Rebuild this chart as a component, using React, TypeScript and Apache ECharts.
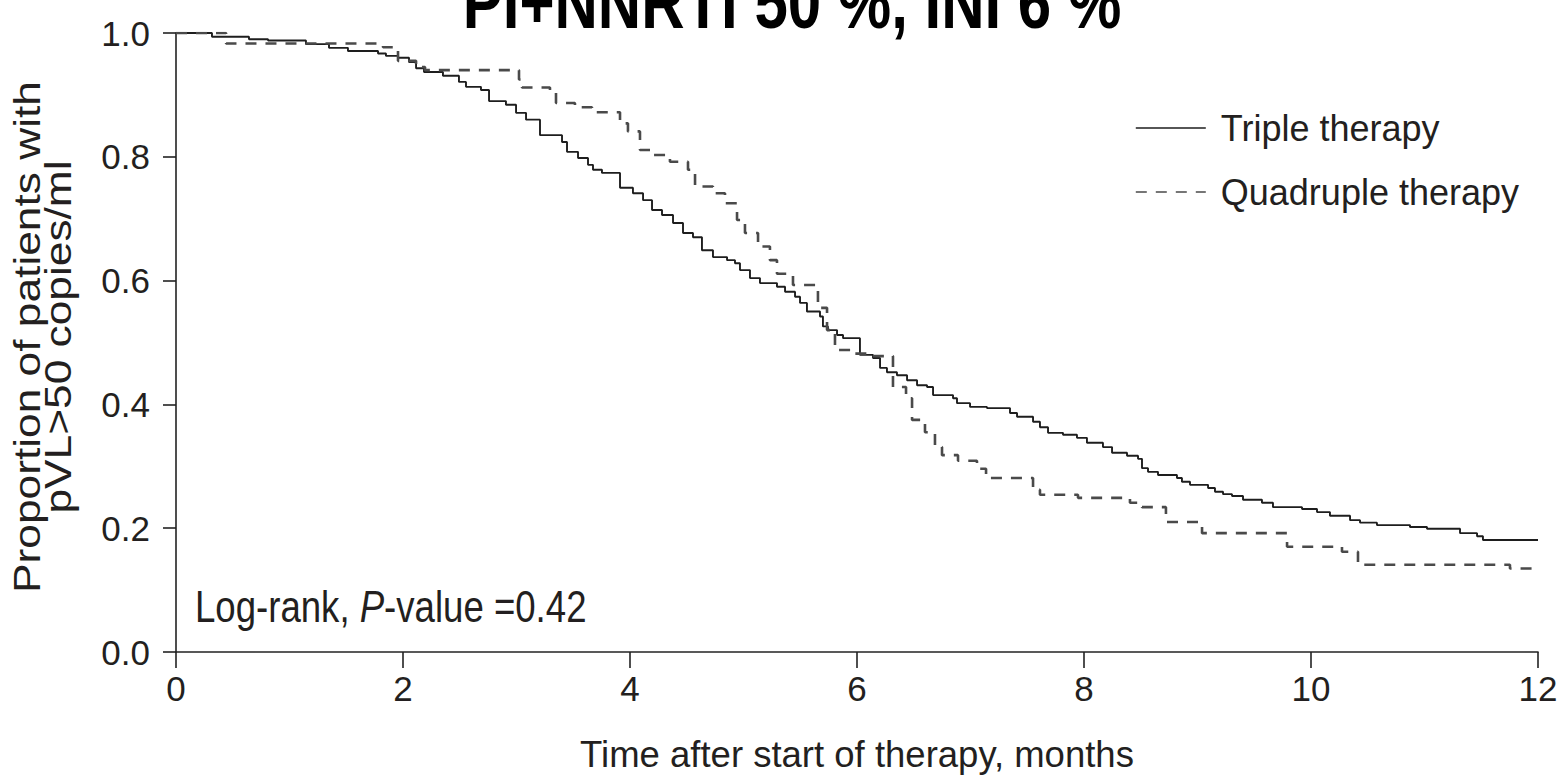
import React, { useEffect, useRef } from "react";
import * as echarts from "echarts";

const xTicks = [0, 2, 4, 6, 8, 10, 12];
const yTicks = [0, 0.2, 0.4, 0.6, 0.8, 1.0];

const seriesNames = ["Triple therapy", "Quadruple therapy"];

const tripleTimes = [
  0, 0.317, 0.643, 0.811, 1.145, 1.348, 1.515, 1.78, 1.85, 1.956, 2.053, 2.115, 2.185, 2.352, 2.493,
  2.555, 2.687, 2.758, 2.907, 2.996, 3.084, 3.207, 3.401, 3.445, 3.542, 3.63, 3.674, 3.753, 3.912,
  4.026, 4.115, 4.194, 4.282, 4.379, 4.467, 4.555, 4.634, 4.731, 4.855, 4.925, 4.969, 5.057, 5.145,
  5.295, 5.366, 5.454, 5.498, 5.559, 5.674, 5.7, 5.744, 5.824, 5.877, 6.026, 6.141, 6.203, 6.264,
  6.352, 6.441, 6.529, 6.617, 6.67, 6.846, 6.881, 6.996, 7.145, 7.348, 7.41, 7.551, 7.612, 7.683,
  7.815, 7.938, 8.026, 8.167, 8.247, 8.379, 8.476, 8.511, 8.564, 8.652, 8.819, 8.863, 8.934, 9.093,
  9.154, 9.225, 9.304, 9.401, 9.568, 9.665, 9.921, 10.053, 10.167, 10.344, 10.432, 10.581, 10.872,
  11.022, 11.313, 11.463, 11.515, 12.0,
];
const tripleValues = [
  1.0, 0.994, 0.99, 0.988, 0.982, 0.976, 0.971, 0.967, 0.963, 0.96, 0.953, 0.943, 0.937, 0.931, 0.921,
  0.913, 0.908, 0.89, 0.884, 0.871, 0.86, 0.835, 0.824, 0.808, 0.798, 0.787, 0.779, 0.774, 0.75,
  0.741, 0.73, 0.714, 0.706, 0.693, 0.677, 0.67, 0.649, 0.638, 0.633, 0.628, 0.617, 0.604, 0.596,
  0.59, 0.582, 0.574, 0.564, 0.55, 0.542, 0.526, 0.52, 0.512, 0.507, 0.48, 0.475, 0.459, 0.452,
  0.447, 0.439, 0.431, 0.428, 0.415, 0.41, 0.402, 0.396, 0.394, 0.386, 0.38, 0.372, 0.363, 0.354,
  0.351, 0.346, 0.338, 0.331, 0.322, 0.317, 0.312, 0.297, 0.291, 0.286, 0.281, 0.275, 0.27, 0.265,
  0.259, 0.255, 0.252, 0.246, 0.241, 0.234, 0.231, 0.226, 0.22, 0.213, 0.209, 0.205, 0.202,
  0.199, 0.192, 0.187, 0.181, 0.181,
];

const quadTimes = [
  0, 0.441, 1.824, 1.956, 2.115, 2.194, 3.022, 3.048, 3.295, 3.348, 3.515, 3.665, 3.912, 3.982, 4.088,
  4.203, 4.352, 4.511, 4.573, 4.731, 4.837, 4.943, 5.013, 5.128, 5.233, 5.295, 5.436, 5.656, 5.736,
  5.806, 5.965, 6.115, 6.317, 6.432, 6.485, 6.599, 6.687, 6.749, 6.89, 7.057, 7.137, 7.551, 7.612,
  7.947, 8.405, 8.511, 8.722, 9.04, 9.789, 10.273, 10.414, 11.753, 12.0,
];
const quadValues = [
  1.0, 0.983, 0.977, 0.955, 0.945, 0.94, 0.925, 0.912, 0.905, 0.887, 0.88, 0.872, 0.854, 0.841, 0.811,
  0.803, 0.792, 0.779, 0.752, 0.741, 0.725, 0.698, 0.677, 0.655, 0.633, 0.611, 0.593, 0.556, 0.52,
  0.488, 0.482, 0.478, 0.428, 0.41, 0.375, 0.355, 0.331, 0.318, 0.309, 0.296, 0.281, 0.262, 0.254,
  0.249, 0.241, 0.234, 0.21, 0.192, 0.17, 0.162, 0.141, 0.135, 0.135,
];

const titleText = "PI+NNRTI 50 %, INI 6 %";
const xAxisName = "Time after start of therapy, months";
const yAxisName = "Proportion of patients with\npVL>50 copies/ml";

const FONT = '"Liberation Sans", Arial, Helvetica, sans-serif';
const TEXT = "#231f20";
const STRETCH = 1.23;

export default function App() {
  const ref = useRef<HTMLDivElement>(null);

  useEffect(() => {
    document.body.style.margin = "0";
    if (!ref.current) return;
    const chart = echarts.init(ref.current, undefined, { renderer: "svg" });

    const tri = tripleTimes.map((t, i) => [t, tripleValues[i]]);
    const quad = quadTimes.map((t, i) => [t, quadValues[i]]);

    chart.setOption({
      animation: false,
      backgroundColor: "#ffffff",
      textStyle: { fontFamily: FONT },
      grid: {
        left: 176,
        right: 26,
        top: 33,
        bottom: 126,
        containLabel: false,
        outerBoundsMode: "none",
      },
      legend: {
        orient: "vertical",
        left: 1130,
        top: 102,
        itemWidth: 70,
        itemHeight: 14,
        itemGap: 22,
        data: seriesNames,
        itemStyle: { opacity: 0 },
        lineStyle: { width: 1.6 },
        textStyle: {
          fontFamily: FONT,
          fontSize: 36,
          color: TEXT,
          lineHeight: 42,
          padding: [0, 0, 0, 10],
        },
      },
      xAxis: {
        type: "value",
        min: 0,
        max: 12,
        interval: 2,
        name: xAxisName,
        nameLocation: "middle",
        nameGap: 84,
        nameTextStyle: { fontFamily: FONT, fontSize: 36.5, color: TEXT },
        axisLine: { show: true, onZero: false, lineStyle: { color: "#222", width: 1.6 } },
        axisTick: { show: true, inside: false, length: 16, lineStyle: { color: "#222", width: 1.6 } },
        axisLabel: {
          fontFamily: FONT,
          fontSize: 35,
          color: TEXT,
          margin: 19,
          formatter: (v: number) => (xTicks.includes(v) ? String(v) : ""),
        },
        splitLine: { show: false },
      },
      yAxis: {
        type: "value",
        min: 0,
        max: 1,
        interval: 0.2,
        axisLine: { show: true, lineStyle: { color: "#222", width: 1.6 } },
        axisTick: { show: true, inside: false, length: 13, lineStyle: { color: "#222", width: 1.6 } },
        axisLabel: {
          fontFamily: FONT,
          fontSize: 35,
          color: TEXT,
          margin: 26,
          formatter: (v: number) =>
            yTicks.some((t) => Math.abs(t - v) < 1e-9) ? v.toFixed(1) : "",
        },
        splitLine: { show: false },
      },
      series: [
        {
          name: seriesNames[0],
          type: "line",
          step: "end",
          data: tri,
          symbol: "none",
          lineStyle: { color: "#1e1e1e", width: 1.9, type: "solid" },
          itemStyle: { color: "#1e1e1e" },
        },
        {
          name: seriesNames[1],
          type: "line",
          step: "end",
          data: quad,
          symbol: "none",
          lineStyle: { color: "#4a4a4a", width: 2.6, type: [11, 9] },
          itemStyle: { color: "#4a4a4a" },
        },
      ],
      graphic: [
        {
          type: "text",
          x: 792,
          y: 39,
          scaleY: STRETCH,
          style: {
            text: titleText,
            font: `bold 60px ${FONT}`,
            fill: "#000",
            textAlign: "center",
            textVerticalAlign: "bottom",
            lineHeight: 60,
          },
        },
        {
          type: "text",
          x: 43,
          y: 337,
          rotation: Math.PI / 2,
          scaleX: STRETCH,
          style: {
            text: yAxisName,
            font: `36px ${FONT}`,
            fill: TEXT,
            textAlign: "center",
            textVerticalAlign: "middle",
            lineHeight: 31,
          },
        },
        {
          type: "text",
          x: 195,
          y: 607,
          scaleY: STRETCH,
          style: {
            text: "{n|Log-rank, }{i|P}{n|-value =0.42}",
            textVerticalAlign: "middle",
            rich: {
              n: { fontFamily: FONT, fontSize: 36.6, fill: TEXT, color: TEXT },
              i: { fontFamily: FONT, fontSize: 36.6, fontStyle: "italic", fill: TEXT, color: TEXT },
            },
          },
        },
      ],
    });

    return () => chart.dispose();
  }, []);

  return (
    <div
      ref={ref}
      style={{ position: "absolute", left: 0, top: 0, width: 1564, height: 778 }}
    />
  );
}
